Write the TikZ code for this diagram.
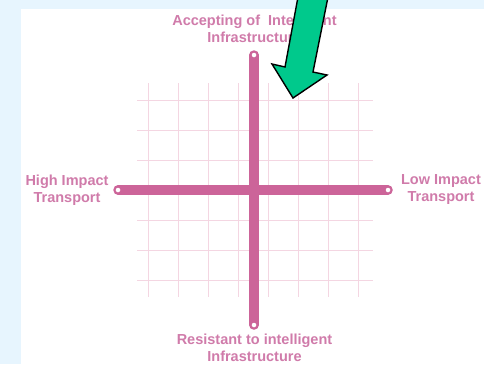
\documentclass[tikz,border=0pt]{standalone}
\usepackage{fontspec}
\setmainfont{Liberation Sans}
\definecolor{bgblue}{HTML}{E7F5FE}
\definecolor{axpink}{HTML}{CC6499}
\definecolor{txpink}{HTML}{D07BAA}
\definecolor{gridpink}{HTML}{F4D6E2}
\definecolor{arrgreen}{HTML}{00C98C}
\begin{document}
\begin{tikzpicture}[x=1bp,y=-1bp,
  lbl/.style={text=txpink,font=\fontsize{14.5bp}{17bp}\selectfont\bfseries,align=center,inner sep=0pt},
  axisline/.style={draw=axpink,line width=9.5bp,line cap=round},
  endring/.style={circle,fill=white,draw=axpink,line width=1bp,minimum size=6bp,inner sep=0pt},
  gridline/.style={draw=gridpink,line width=0.9bp}]
\useasboundingbox (0,0) rectangle (484,364);
\fill[bgblue] (0,0) rectangle (484,364);
\fill[white] (21,9) rectangle (484,364);
% grid
\foreach \x in {148,178,...,358} \draw[gridline] (\x,83) -- (\x,297);
\foreach \y in {100,130,...,280} \draw[gridline] (137,\y) -- (373,\y);
% axes
\coordinate (top) at (254,55);
\coordinate (bot) at (254,325);
\coordinate (lft) at (118,190);
\coordinate (rgt) at (388,190);
\draw[axisline] (top) -- (bot);
\draw[axisline] (lft) -- (rgt);
\node[endring] (topring) at (top) {};
\node[endring] (botring) at (bot) {};
\node[endring] (lftring) at (lft) {};
\node[endring] (rgtring) at (rgt) {};
% labels
\node[lbl] (ltop) at (254.5,28.5) {Accepting of\ \ Intelligent\\Infrastructure};
\node[lbl] (lbot) at (254.5,347.5) {Resistant to intelligent\\Infrastructure};
\node[lbl] (llft) at (67,190) {High Impact\\Transport};
\node[lbl] (lrgt) at (441,190) {Low Impact\\Transport};
% green arrow
\filldraw[fill=arrgreen,draw=black,line width=1.4bp,line join=miter]
  (298,-3) -- (285,67) -- (272,64) -- (293,98) -- (327,75) -- (313,72) -- (328,-3) -- cycle;
\end{tikzpicture}
\end{document}
